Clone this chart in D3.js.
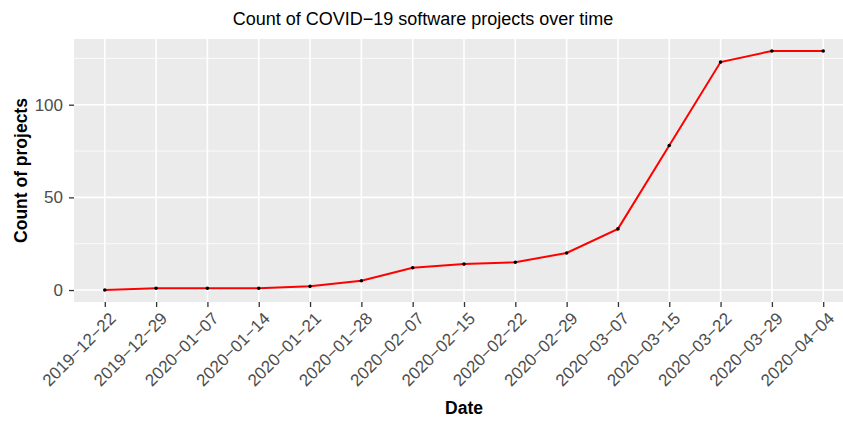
<!DOCTYPE html>
<html>
<head>
<meta charset="utf-8">
<script src="https://cdn.jsdelivr.net/npm/d3@7"></script>
<style>
  body { margin: 0; background: #fff; }
  svg { display: block; font-family: "Liberation Sans", Arial, sans-serif; }
</style>
</head>
<body>
<div id="chart"></div>
<script>
// Chart data
const dates = ['2019-12-22', '2019-12-29', '2020-01-07', '2020-01-14', '2020-01-21',
  '2020-01-28', '2020-02-07', '2020-02-15', '2020-02-22', '2020-02-29',
  '2020-03-07', '2020-03-15', '2020-03-22', '2020-03-29', '2020-04-04'];
const counts = [0, 1, 1, 1, 2, 5, 12, 14, 15, 20, 33, 78, 123, 129, 129];
const yTicks = [0, 50, 100];
const yMinorTicks = [25, 75, 125];

const totalWidth = 843, totalHeight = 421;
const panel = {left: 74, top: 39, right: 854, bottom: 302};

const svg = d3.select('#chart').append('svg')
  .attr('width', totalWidth)
  .attr('height', totalHeight);

// ggplot style scales: discrete x with 0.6 expansion, continuous y with 5% expansion
const x = d3.scalePoint().domain(dates).range([panel.left, panel.right]).padding(0.6);
const yMin = d3.min(counts), yMax = d3.max(counts);
const pad = (yMax - yMin) * 0.05;
const y = d3.scaleLinear().domain([yMin - pad, yMax + pad]).range([panel.bottom, panel.top]);

// Panel background
svg.append('rect')
  .attr('x', panel.left)
  .attr('y', panel.top)
  .attr('width', panel.right - panel.left)
  .attr('height', panel.bottom - panel.top)
  .style('fill', '#EBEBEB');

const grid = svg.append('g').attr('class', 'grid');
grid.selectAll('line.minor-y')
  .data(yMinorTicks)
  .enter().append('line')
  .attr('class', 'minor-y')
  .attr('x1', panel.left).attr('x2', panel.right)
  .attr('y1', d => y(d)).attr('y2', d => y(d))
  .style('stroke', '#fff').style('stroke-width', 0.8);
grid.selectAll('line.major-y')
  .data(yTicks)
  .enter().append('line')
  .attr('class', 'major-y')
  .attr('x1', panel.left).attr('x2', panel.right)
  .attr('y1', d => y(d)).attr('y2', d => y(d))
  .style('stroke', '#fff').style('stroke-width', 1.6);
grid.selectAll('line.major-x')
  .data(dates)
  .enter().append('line')
  .attr('class', 'major-x')
  .attr('x1', d => x(d)).attr('x2', d => x(d))
  .attr('y1', panel.top).attr('y2', panel.bottom)
  .style('stroke', '#fff').style('stroke-width', 1.6);

// Axes (R draws the hyphens of the date labels as minus signs)
const xAxis = d3.axisBottom(x).tickSizeInner(5).tickSizeOuter(0).tickPadding(2)
  .tickFormat(d => d.replace(/-/g, '\u2212'));
const yAxis = d3.axisLeft(y).tickValues(yTicks).tickSizeInner(5).tickSizeOuter(0).tickPadding(6);

const xAxisG = svg.append('g')
  .attr('class', 'axis axis--x')
  .attr('transform', 'translate(' + [0, panel.bottom] + ')')
  .call(xAxis);
xAxisG.select('.domain').remove();
xAxisG.selectAll('line').style('stroke', '#333333').style('stroke-width', 1.3);
xAxisG.selectAll('text')
  .style('font-size', '17px')
  .style('fill', '#4D4D4D')
  .attr('text-anchor', 'end')
  .attr('dy', '0.72em')
  .attr('y', 0)
  .attr('transform', 'translate(' + [3, 9] + ') rotate(-45)');

const yAxisG = svg.append('g')
  .attr('class', 'axis axis--y')
  .attr('transform', 'translate(' + [panel.left, 0] + ')')
  .call(yAxis);
yAxisG.select('.domain').remove();
yAxisG.selectAll('line').style('stroke', '#333333').style('stroke-width', 1.3);
yAxisG.selectAll('text')
  .style('font-size', '17px')
  .style('fill', '#4D4D4D');

// Line and points
const line = d3.line()
  .x((d, i) => x(dates[i]))
  .y(d => y(d));

svg.append('path')
  .datum(counts)
  .attr('d', line)
  .style('fill', 'none')
  .style('stroke', '#FF0000')
  .style('stroke-width', 2);

svg.selectAll('circle.point')
  .data(counts)
  .enter().append('circle')
  .attr('class', 'point')
  .attr('cx', (d, i) => x(dates[i]))
  .attr('cy', d => y(d))
  .attr('r', 1.8)
  .style('fill', '#000');

// Titles
svg.append('text')
  .attr('x', 423)
  .attr('y', 25)
  .attr('text-anchor', 'middle')
  .style('font-size', '18px')
  .style('fill', '#000')
  .text('Count of COVID\u221219 software projects over time');

svg.append('text')
  .attr('x', (panel.left + panel.right) / 2)
  .attr('y', 414)
  .attr('text-anchor', 'middle')
  .style('font-size', '17.5px')
  .style('font-weight', 'bold')
  .text('Date');

svg.append('text')
  .attr('transform', 'translate(' + [26.5, (panel.top + panel.bottom) / 2] + ') rotate(-90)')
  .attr('text-anchor', 'middle')
  .style('font-size', '17.5px')
  .style('font-weight', 'bold')
  .text('Count of projects');
</script>
</body>
</html>
